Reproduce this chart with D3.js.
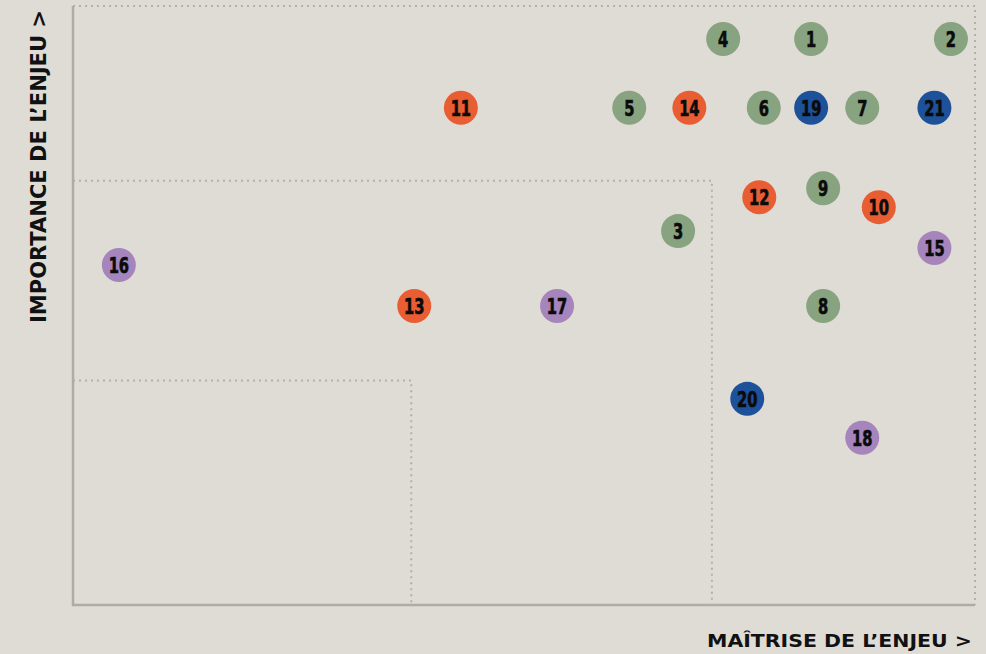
<!DOCTYPE html>
<html>
<head>
<meta charset="utf-8">
<script src="https://cdn.jsdelivr.net/npm/d3@7.9.0/dist/d3.min.js"></script>
<style>
  html, body { margin: 0; padding: 0; background: #dfdcd5; }
  svg { display: block; }
  .axis-title { font-family: "DejaVu Sans", sans-serif; font-weight: 700; fill: #111; }
  .num { font-family: "DejaVu Sans", sans-serif; font-weight: 700; fill: #0b0b0b; stroke: #0b0b0b; stroke-width: 0.7; }
</style>
</head>
<body>
<svg id="chart" width="986" height="654"></svg>
<script>
// enjeux: id, maitrise (x), importance (y), groupe
const ids        = [1, 2, 3, 4, 5, 6, 7, 8, 9, 10, 11, 12, 13, 14, 15, 16, 17, 18, 19, 20, 21];
const maitrise   = [9.82, 11.68, 8.05, 8.65, 7.40, 9.19, 10.50, 9.98, 9.98, 10.72, 5.16, 9.13, 4.54, 8.20, 11.46, 0.61, 6.44, 10.50, 9.82, 8.97, 11.46];
const importance = [11.34, 11.34, 7.49, 11.34, 9.96, 9.96, 9.96, 5.99, 8.35, 7.97, 9.96, 8.17, 5.99, 9.96, 7.15, 6.81, 5.99, 3.35, 9.96, 4.13, 9.96];
const groupe     = ['vert', 'vert', 'vert', 'vert', 'vert', 'vert', 'vert', 'vert', 'vert', 'orange', 'orange', 'orange', 'orange', 'orange', 'violet', 'violet', 'violet', 'violet', 'bleu', 'bleu', 'bleu'];

// seuils des zones (carrés emboîtés)
const seuils = [4.5, 8.5, 12];

const colors = d3.scaleOrdinal()
  .domain(['vert', 'orange', 'violet', 'bleu'])
  .range(['#87a37f', '#e85d31', '#a585bb', '#1d5199']);

const svg = d3.select('#chart');
const margin = { left: 73, right: 11, top: 6, bottom: 49 };
const W = 986, H = 654;

const x = d3.scaleLinear().domain([0, 12]).range([margin.left, W - margin.right]);
const y = d3.scaleLinear().domain([0, 12]).range([H - margin.bottom, margin.top]);

// zones en pointillés
const zones = svg.append('g');
seuils.forEach((s) => {
  zones.append('path')
    .attr('d', `M${x(0)},${y(s)} H${x(s)} V${y(0)}`)
    .attr('fill', 'none')
    .attr('stroke', '#b4b0a7')
    .attr('stroke-width', 2)
    .attr('stroke-dasharray', '2,4');
});

// axes
svg.append('line')
  .attr('x1', x(0)).attr('x2', x(0))
  .attr('y1', y(12)).attr('y2', y(0) + 1)
  .attr('stroke', '#b0aca4').attr('stroke-width', 2.5);
svg.append('line')
  .attr('x1', x(0) - 1).attr('x2', x(12))
  .attr('y1', y(0)).attr('y2', y(0))
  .attr('stroke', '#b0aca4').attr('stroke-width', 2.5);

// titres
svg.append('text')
  .attr('class', 'axis-title')
  .attr('x', 972).attr('y', 647)
  .attr('text-anchor', 'end')
  .attr('font-size', 18)
  .attr('textLength', 265)
  .attr('lengthAdjust', 'spacingAndGlyphs')
  .text('MAÎTRISE DE L’ENJEU >');

svg.append('text')
  .attr('class', 'axis-title')
  .attr('transform', 'translate(46,323) rotate(-90)')
  .attr('text-anchor', 'start')
  .attr('font-size', 20.5)
  .attr('textLength', 313)
  .attr('lengthAdjust', 'spacingAndGlyphs')
  .text('IMPORTANCE DE L’ENJEU >');

// points
const data = ids.map((id, i) => ({ id, x: maitrise[i], y: importance[i], g: groupe[i] }));

const pts = svg.append('g').selectAll('g')
  .data(data)
  .join('g')
  .attr('transform', (d) => `translate(${x(d.x)},${y(d.y)})`);

pts.append('circle')
  .attr('r', 17)
  .attr('fill', (d) => colors(d.g));

pts.append('text')
  .attr('class', 'num')
  .attr('text-anchor', 'middle')
  .attr('transform', 'scale(0.7,1)')
  .attr('dy', '0.37em')
  .attr('font-size', 21)
  .text((d) => d.id);
</script>
</body>
</html>
